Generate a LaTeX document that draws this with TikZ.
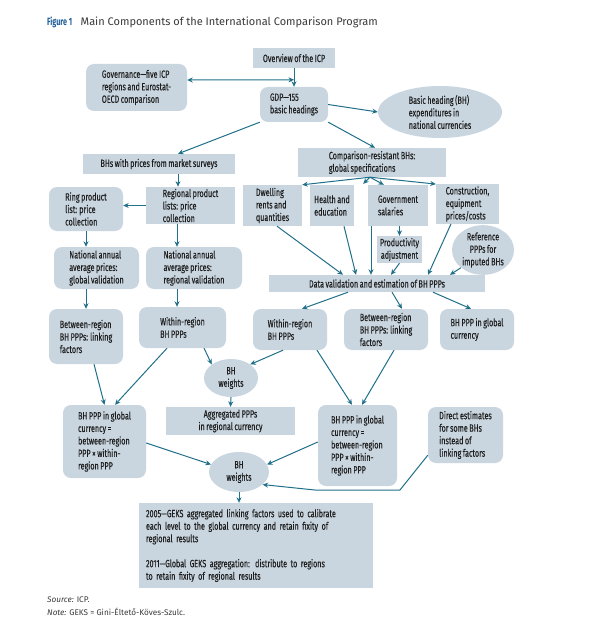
\documentclass[tikz,border=0pt]{standalone}
\usepackage{fontspec}
\setmainfont{Fira Sans}
\newfontfamily\condfont{Fira Sans}[FakeStretch=0.686,FakeBold=0.15,WordSpace=0.8]
\newfontfamily\figfont{Fira Sans}[FakeStretch=0.68]
\usetikzlibrary{arrows.meta,shapes.geometric}
\definecolor{boxc}{HTML}{C9D6E0}
\definecolor{arrc}{HTML}{21708A}
\definecolor{txtc}{HTML}{1E1E1E}
\definecolor{titc}{HTML}{3A3A3A}
\definecolor{figblue}{HTML}{1D5C96}
\begin{document}
\begin{tikzpicture}[x=1pt,y=-1pt,
  base/.style={fill=boxc, text=txtc, inner sep=2pt, align=left,
    font=\condfont\fontsize{10.5}{12.5}\selectfont},
  sbox/.style={base, rectangle},
  rbox/.style={base, rectangle, rounded corners=8pt},
  ebox/.style={base, ellipse, inner sep=0pt},
  arr/.style={draw=arrc, line width=1pt, -{Stealth[length=5.5pt,width=5pt]}},
  darr/.style={draw=arrc, line width=1pt, {Stealth[length=5.5pt,width=5pt]}-{Stealth[length=5.5pt,width=5pt]}}]
\fill[white] (0,0) rectangle (600,631);
\useasboundingbox (0,0) rectangle (600,631);

\node[anchor=base west, inner sep=0pt, text=figblue, font=\figfont\bfseries\fontsize{10.5}{12}\selectfont] (figlabel) at (47,25.5) {Figure\,1};
\node[anchor=base west, inner sep=0pt, text=titc, font=\fontsize{11}{13}\selectfont] (title) at (80.5,25.5)
  {Main Components of the International Comparison Program};

\node[sbox, minimum width=82pt, minimum height=20pt, align=center] (overview) at (294,58) {Overview of the ICP};
\node[rbox, minimum width=101pt, minimum height=47pt] (gov) at (136.5,87.5) {Governance—five ICP\\regions and Eurostat-\\OECD comparison};
\node[rbox, minimum width=68pt, minimum height=35pt] (gdp) at (294,104.5) {GDP—155\\basic headings};
\node[ebox, minimum width=124pt, minimum height=52pt] (bhexp) at (440,112) {Basic heading (BH)\\expenditures in\\national currencies};
\node[sbox, minimum width=152pt, minimum height=20pt, align=center] (bhs) at (159,164) {BHs with prices from market surveys};
\node[sbox, minimum width=148pt, minimum height=29pt] (compres) at (372,162.5) {Comparison-resistant BHs:\\global specifications};
\node[rbox, minimum width=74pt, minimum height=44pt] (ring) at (86,209) {Ring product\\list: price\\collection};
\node[sbox, minimum width=89pt, minimum height=37pt] (regional) at (190.5,205.5) {Regional product\\lists: price\\collection};
\node[rbox, minimum width=85pt, minimum height=42pt] (natglob) at (96.5,268) {National annual\\average prices:\\global validation};
\node[rbox, minimum width=96pt, minimum height=42pt] (natreg) at (194,268) {National annual\\average prices:\\regional validation};
\node[sbox, minimum width=59pt, minimum height=41pt] (dwelling) at (272.5,205.5) {Dwelling\\rents and\\quantities};
\node[sbox, minimum width=44pt, minimum height=41pt] (health) at (332,205.5) {Health and\\education};
\node[sbox, minimum width=60pt, minimum height=41pt] (govsal) at (398,205.5) {Government\\salaries};
\node[sbox, minimum width=63pt, minimum height=38pt] (constr) at (467.5,204) {Construction,\\equipment\\prices/costs};
\node[sbox, minimum width=45pt, minimum height=25pt, align=center] (prod) at (399.5,249.5) {Productivity\\adjustment};
\node[ebox, minimum width=62pt, minimum height=44pt, align=center] (refppp) at (483,250) {Reference\\PPPs for\\imputed BHs};
\node[sbox, minimum width=216pt, minimum height=17pt, align=center] (datav) at (377,283.5) {Data validation and estimation of BH PPPs};
\node[rbox, minimum width=74pt, minimum height=55pt] (betweenL) at (86,336.5) {Between-region\\BH PPPs: linking\\factors};
\node[rbox, minimum width=87pt, minimum height=41pt] (withinL) at (182.5,327.5) {Within-region\\BH PPPs};
\node[rbox, minimum width=74pt, minimum height=41pt] (withinR) at (290,329.5) {Within-region\\BH PPPs};
\node[rbox, minimum width=84pt, minimum height=41pt] (betweenR) at (386,329.5) {Between-region\\BH PPPs: linking\\factors};
\node[rbox, minimum width=74pt, minimum height=41pt] (globalR) at (477,329.5) {BH PPP in global\\currency};
\node[ebox, minimum width=54pt, minimum height=38pt, align=center] (weightsU) at (231,378) {BH\\weights};
\node[sbox, minimum width=129pt, minimum height=28pt, align=center] (aggr) at (230.5,421) {Aggregated PPPs\\in regional currency};
\node[rbox, minimum width=83pt, minimum height=73pt] (bhpppL) at (104.5,441.5) {BH PPP in global\\currency =\\between-region\\PPP × within-\\region PPP};
\node[rbox, minimum width=79pt, minimum height=81pt] (bhpppM) at (357.5,445.5) {BH PPP in global\\currency =\\between-region\\PPP × within-\\region PPP};
\node[rbox, minimum width=75pt, minimum height=56pt] (direct) at (465.5,435) {Direct estimates\\for some BHs\\instead of\\linking factors};
\node[ebox, minimum width=60pt, minimum height=40pt, align=center] (weightsL) at (239,472) {BH\\weights};
\node[sbox, minimum width=234pt, minimum height=85pt, text width=220pt, inner xsep=7pt] (bottom) at (256,545.5)
  {2005—GEKS aggregated linking factors used to calibrate\\each level to the global currency and retain fixity of\\regional results\\[12.5pt]2011—Global GEKS aggregation: distribute to regions\\to retain fixity of regional results};

\node[anchor=north west, inner sep=0pt, align=left, text=titc, font=\fontsize{8.2}{13}\selectfont] (notes) at (47,597)
  {\textit{Source:} ICP.\\\textit{Note:} GEKS = Gini-Éltető-Köves-Szulc.};

% connectors
\draw[arr] (overview.south) -- (gdp.north);
\draw[darr] ([yshift=7.5pt]gov.east) -- ([yshift=7pt]gdp.north);
\draw[arr] (gdp.east) -- (bhexp.west);
\draw[arr] (gdp.south west) -- ([xshift=19pt]bhs.north);
\draw[arr] (gdp.south east) -- ([xshift=3pt]compres.north);
\draw[arr] ([xshift=19pt]bhs.south) -- ([xshift=-12.5pt]regional.north);
\draw[arr] (regional.west) -- (regional.west -| ring.east);
\draw[arr] (ring.south) -- (ring.south |- natglob.north);
\draw[arr] ([xshift=-13.5pt]regional.south) -- ([xshift=-17pt]natreg.north);
\draw[arr] (betweenL.north |- natglob.south) -- (betweenL.north);
\draw[arr] ([xshift=-17pt]natreg.south) -- ([xshift=-5.5pt]withinL.north);
\draw[arr] ([xshift=-2pt]compres.south) -- (dwelling.north east);
\draw[arr] ([xshift=-2pt]compres.south) -- ([xshift=9pt,yshift=1pt]health.north east);
\draw[arr] ([xshift=-2pt]compres.south) -- ([xshift=16pt]govsal.north west);
\draw[arr] ([xshift=-2pt]compres.south) -- (constr.north west);
\draw[arr] ([xshift=4.5pt]dwelling.south) -- ([xshift=-34pt]datav.north);
\draw[arr] ([xshift=12pt]health.south) -- ([xshift=-21pt]datav.north);
\draw[arr] ([xshift=-27pt]govsal.south) -- ([xshift=-6pt]datav.north);
\draw[arr] ([xshift=1.5pt]govsal.south) -- (prod.north);
\draw[arr] (prod.south) -- ([xshift=14pt]datav.north);
\draw[arr] ([xshift=-16.5pt]constr.south) -- ([xshift=51pt]datav.north);
\draw[arr] (refppp.south west) -- ([xshift=73pt]datav.north);
\draw[arr] ([xshift=-29pt]datav.south) -- ([xshift=12pt]withinR.north);
\draw[arr] ([xshift=15pt]datav.south) -- ([xshift=16pt]betweenR.north);
\draw[arr] ([xshift=56pt]datav.south) -- ([xshift=-6pt]globalR.north);
\draw[arr] ([xshift=21.5pt]withinL.south) -- (weightsU.north west);
\draw[arr] ([xshift=-7pt]withinR.south) -- (weightsU.north east);
\draw[arr] (weightsU.south) -- (aggr.north);
\draw[arr] ([xshift=8pt]betweenL.south) -- (bhpppL.north);
\draw[arr] ([xshift=-15.5pt]withinL.south) -- ([xshift=10.5pt]bhpppL.north);
\draw[arr] ([xshift=27pt]withinR.south) -- ([xshift=-5.5pt]bhpppM.north);
\draw[arr] ([xshift=8pt]betweenR.south) -- ([xshift=4.5pt]bhpppM.north);
\draw[arr] ([yshift=-1.5pt]bhpppL.east) -- (weightsL.165);
\draw[arr] ([yshift=3.5pt]bhpppM.west) -- (weightsL.15);
\draw[arr] ([yshift=8pt]direct.south west) -- ++(-28,35) -- ++(-83,0) -- (weightsL.-28);
\draw[arr] (weightsL.south) -- (weightsL.south |- bottom.north);
\end{tikzpicture}
\end{document}
